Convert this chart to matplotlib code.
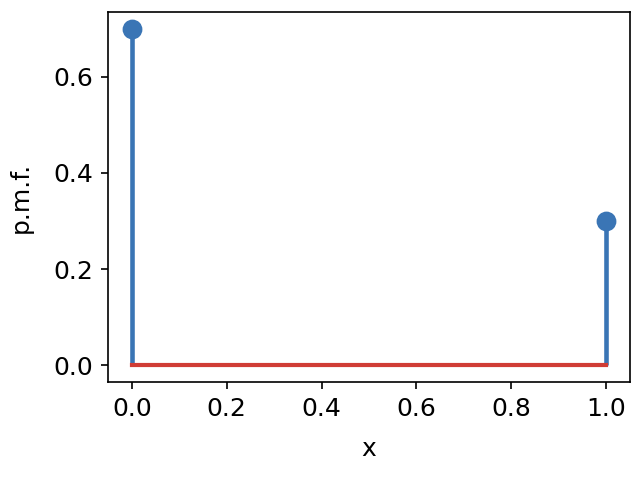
import matplotlib
matplotlib.use('Agg')
import matplotlib.pyplot as plt

# Datos: distribución de Bernoulli
x_vals = [0, 1]
pmf_vals = [0.7, 0.3]
y_ticks = [0.0, 0.2, 0.4, 0.6]

plt.rcParams['font.size'] = 12

fig, ax = plt.subplots(figsize=(644 / 150, 478 / 150), dpi=150)

markerline, stemlines, baseline = ax.stem(x_vals, pmf_vals)
plt.setp(markerline, color='#3a75b5', markersize=8.5)
plt.setp(stemlines, color='#3a75b5', linewidth=2.2)
plt.setp(baseline, color='#d03c35', linewidth=2)

ax.set_yticks(y_ticks)
ax.set_xlabel('x', labelpad=8)
ax.set_ylabel('p.m.f.', labelpad=10)

fig.subplots_adjust(left=0.168, right=0.978, top=0.975, bottom=0.201)
fig.savefig('out.png', dpi=150)
